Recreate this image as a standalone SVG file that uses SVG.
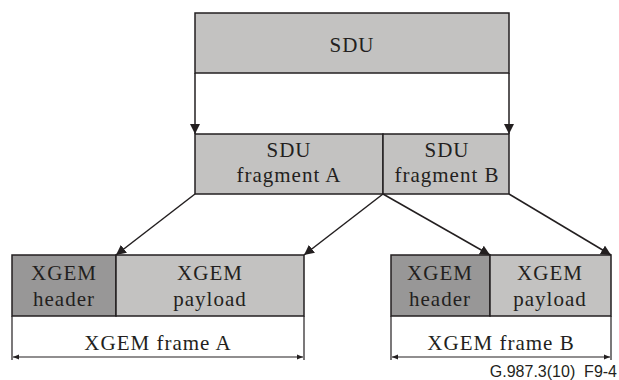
<svg xmlns="http://www.w3.org/2000/svg" width="619" height="380" viewBox="0 0 619 380">
<style>
.box{stroke:#231f20;stroke-width:1.5}
.light{fill:#c3c2c1}
.dark{fill:#989797}
.t{font-family:'Liberation Serif','Times New Roman','DejaVu Serif',serif;font-size:21px;letter-spacing:1px;fill:#231f20;text-anchor:middle}
.ln{stroke:#231f20;stroke-width:1.5;fill:none}
.thin{stroke:#231f20;stroke-width:1.2;fill:none}
.foot{font-family:'Liberation Sans',Arial,sans-serif;font-size:16px;fill:#231f20;text-anchor:end}
</style>
<defs>
<marker id="ah" viewBox="0 0 10 10" refX="10" refY="5" markerWidth="10" markerHeight="10" markerUnits="userSpaceOnUse" orient="auto">
<path d="M0,0 L10,5 L0,10 Z" fill="#231f20"/>
</marker>
<marker id="dim" viewBox="0 0 10 10" refX="10" refY="5" markerWidth="6" markerHeight="6" markerUnits="userSpaceOnUse" orient="auto-start-reverse">
<path d="M0,1 L10,5 L0,9 Z" fill="#231f20"/>
</marker>
</defs>
<g id="sdu">
<rect class="box light" x="195" y="13" width="314" height="60"/>
<text class="t" font-family="Liberation Serif, serif" x="352" y="52">SDU</text>
</g>
<g id="fragA">
<rect class="box light" x="195" y="134" width="188" height="60"/>
<text class="t" font-family="Liberation Serif, serif" x="289" y="157">SDU</text>
<text class="t" font-family="Liberation Serif, serif" x="289" y="182">fragment A</text>
</g>
<g id="fragB">
<rect class="box light" x="383" y="134" width="126" height="60"/>
<text class="t" font-family="Liberation Serif, serif" x="447" y="157">SDU</text>
<text class="t" font-family="Liberation Serif, serif" x="447" y="182">fragment B</text>
</g>
<g id="headerA">
<rect class="box dark" x="12" y="255" width="104" height="61"/>
<text class="t" font-family="Liberation Serif, serif" x="64" y="280">XGEM</text>
<text class="t" font-family="Liberation Serif, serif" x="64" y="306">header</text>
</g>
<g id="payloadA">
<rect class="box light" x="116" y="255" width="188" height="61"/>
<text class="t" font-family="Liberation Serif, serif" x="210" y="280">XGEM</text>
<text class="t" font-family="Liberation Serif, serif" x="210" y="306">payload</text>
</g>
<g id="headerB">
<rect class="box dark" x="391" y="255" width="99" height="61"/>
<text class="t" font-family="Liberation Serif, serif" x="440" y="280">XGEM</text>
<text class="t" font-family="Liberation Serif, serif" x="440" y="306">header</text>
</g>
<g id="payloadB">
<rect class="box light" x="490" y="255" width="121" height="61"/>
<text class="t" font-family="Liberation Serif, serif" x="550" y="280">XGEM</text>
<text class="t" font-family="Liberation Serif, serif" x="550" y="306">payload</text>
</g>
<g id="frameA">
<line class="thin" x1="12" y1="316" x2="12" y2="360"/>
<line class="thin" x1="304" y1="316" x2="304" y2="360"/>
<line class="thin" x1="13" y1="357" x2="303" y2="357" marker-start="url(#dim)" marker-end="url(#dim)"/>
<text class="t" font-family="Liberation Serif, serif" x="158" y="350">XGEM frame A</text>
</g>
<g id="frameB">
<line class="thin" x1="391" y1="316" x2="391" y2="360"/>
<line class="thin" x1="611" y1="316" x2="611" y2="360"/>
<line class="thin" x1="392" y1="357" x2="610" y2="357" marker-start="url(#dim)" marker-end="url(#dim)"/>
<text class="t" font-family="Liberation Serif, serif" x="501" y="350">XGEM frame B</text>
</g>
<g id="connectors">
<line class="ln" x1="195" y1="73" x2="195" y2="134" marker-end="url(#ah)"/>
<line class="ln" x1="509" y1="73" x2="509" y2="134" marker-end="url(#ah)"/>
<line class="ln" x1="195" y1="194" x2="116" y2="255" marker-end="url(#ah)"/>
<line class="ln" x1="383" y1="194" x2="304" y2="255" marker-end="url(#ah)"/>
<line class="ln" x1="383" y1="194" x2="490" y2="255" marker-end="url(#ah)"/>
<line class="ln" x1="509" y1="194" x2="611" y2="255" marker-end="url(#ah)"/>
</g>
<text class="foot" x="617" y="377" xml:space="preserve">G.987.3(10)  F9-4</text>
</svg>
